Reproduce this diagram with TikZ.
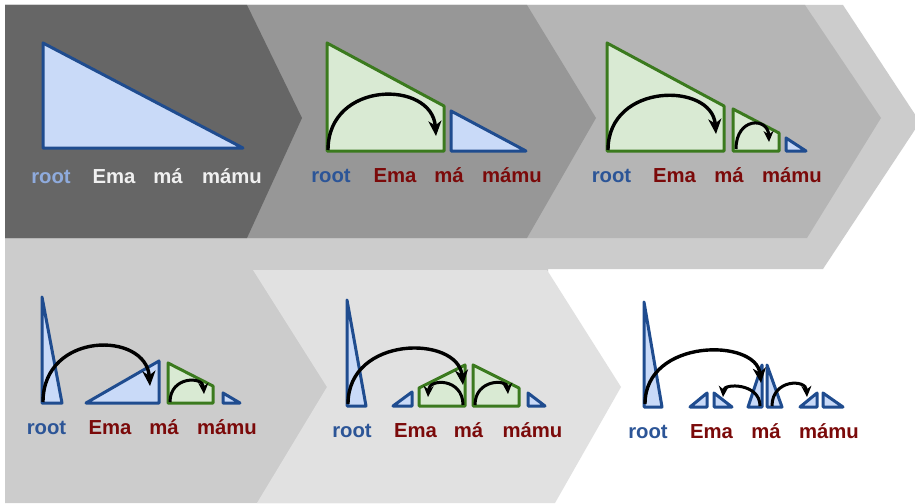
\documentclass[tikz,border=0pt]{standalone}
\usepackage{fontspec}
\setmainfont{Liberation Sans}
\usetikzlibrary{arrows.meta}

\definecolor{panelA}{HTML}{666666}
\definecolor{panelB}{HTML}{979797}
\definecolor{panelC}{HTML}{B5B5B5}
\definecolor{panelD}{HTML}{CCCCCC}
\definecolor{panelE}{HTML}{E1E1E1}
\definecolor{treeblue}{HTML}{1F4C8F}
\definecolor{treebluefill}{HTML}{C9DAF8}
\definecolor{treegreen}{HTML}{3B7A1E}
\definecolor{treegreenfill}{HTML}{D9EAD3}
\definecolor{rootblue}{HTML}{2C5597}
\definecolor{wordred}{HTML}{7B0A0A}
\definecolor{rootpale}{HTML}{8FABDD}
\definecolor{wordpale}{HTML}{F0F0F0}

\tikzset{
  word/.style={font=\fontsize{20.3}{21}\selectfont\bfseries, anchor=base, inner sep=0pt},
  rootword/.style={word, text=rootblue},
  tokword/.style={word, text=wordred},
  bluetri/.style={draw=treeblue, fill=treebluefill, line width=3pt, line join=round},
  greentri/.style={draw=treegreen, fill=treegreenfill, line width=3pt, line join=round},
  bigarc/.style={line width=3.4pt, -{Stealth[length=15pt,width=13pt,inset=4.5pt]}},
  smallarc/.style={line width=3pt, -{Stealth[length=11pt,width=10pt,inset=3.5pt]}},
}

\begin{document}
\begin{tikzpicture}[x=1pt,y=-1pt]
\useasboundingbox (0,0) rectangle (915,503);
\clip (0,0) rectangle (915,503);
\fill[white] (0,0) rectangle (915,503);

% chevron backgrounds
\fill[panelD] (5,5) -- (843,5) -- (920,122) -- (823,269) -- (548,269) -- (548,272)
  -- (400,272) -- (400,503) -- (5,503) -- cycle;
\fill[panelC] (5,5) -- (805,5) -- (881,118) -- (807,238) -- (5,238) -- cycle;
\fill[panelB] (5,5) -- (527,5) -- (596,118) -- (527,238) -- (5,238) -- cycle;
\fill[panelA] (5,5) -- (247,5) -- (302,118) -- (247,238) -- (5,238) -- cycle;
\fill[panelE] (253,270) -- (547,270) -- (621,387) -- (555,503) -- (257,503) -- (327,387) -- cycle;

% step 1
\draw[bluetri] (43,43) -- (43,148) -- (243,148) -- cycle;
\node[word,text=rootpale] (r1) at (51,183) {root};
\node[word,text=wordpale] (e1) at (114,183) {Ema};
\node[word,text=wordpale] (m1) at (168,183) {má};
\node[word,text=wordpale] (u1) at (232,183) {mámu};

% step 2
\draw[greentri] (327,43) -- (327,151) -- (444,151) -- (444,106) -- cycle;
\draw[bluetri] (451,111) -- (451,151) -- (526,151) -- cycle;
\coordinate (a2s) at (328,150);
\coordinate (a2e) at (436,136);
\draw[bigarc] (a2s) .. controls (328,80) and (432,80) .. (a2e);
\node[rootword] (r2) at (331,182) {root};
\node[tokword] (e2) at (395,182) {Ema};
\node[tokword] (m2) at (449,182) {má};
\node[tokword] (u2) at (512,182) {mámu};

% step 3
\draw[greentri] (607,43) -- (607,151) -- (724,151) -- (724,106) -- cycle;
\draw[greentri] (733,109) -- (733,151) -- (779,151) -- (779,133) -- cycle;
\draw[bluetri] (786,138) -- (786,151) -- (806,151) -- cycle;
\coordinate (a3s) at (608,150);
\coordinate (a3e) at (716,134);
\coordinate (b3s) at (736,149);
\coordinate (b3e) at (769,142);
\draw[bigarc] (a3s) .. controls (608,82) and (712,82) .. (a3e);
\draw[smallarc] (b3s) .. controls (736,117) and (768,117) .. (b3e);
\node[rootword] (r3) at (611.5,182) {root};
\node[tokword] (e3) at (674.5,182) {Ema};
\node[tokword] (m3) at (729,182) {má};
\node[tokword] (u3) at (792,182) {mámu};

% step 4
\draw[bluetri] (42,297) -- (42,403) -- (62,403) -- cycle;
\draw[bluetri] (86,403) -- (159,403) -- (159,361) -- cycle;
\draw[greentri] (168,363) -- (168,403) -- (213,403) -- (213,386) -- cycle;
\draw[bluetri] (223,393) -- (223,403) -- (240,403) -- cycle;
\coordinate (a4s) at (43,402);
\coordinate (a4e) at (150,386);
\coordinate (b4s) at (170,402);
\coordinate (b4e) at (204,394);
\draw[bigarc] (a4s) .. controls (43,331) and (146,331) .. (a4e);
\draw[smallarc] (b4s) .. controls (170,376) and (203,376) .. (b4e);
\node[rootword] (r4) at (46.5,434) {root};
\node[tokword] (e4) at (110,434) {Ema};
\node[tokword] (m4) at (164,434) {má};
\node[tokword] (u4) at (227,434) {mámu};

% step 5
\draw[bluetri] (347,300) -- (347,406) -- (366,406) -- cycle;
\draw[bluetri] (393,406) -- (412,406) -- (412,392) -- cycle;
\draw[greentri] (419,406) -- (419,388) -- (465,365) -- (465,406) -- cycle;
\draw[greentri] (473,365) -- (473,406) -- (519,406) -- (519,388) -- cycle;
\draw[bluetri] (528,393) -- (528,406) -- (545,406) -- cycle;
\coordinate (a5s) at (348,404);
\coordinate (a5e) at (463,385);
\coordinate (b5s) at (463,405);
\coordinate (b5e) at (428,397);
\coordinate (c5s) at (475,405);
\coordinate (c5e) at (508,394);
\draw[bigarc] (a5s) .. controls (348,335) and (458,335) .. (a5e);
\draw[smallarc] (b5s) .. controls (463,378) and (429,378) .. (b5e);
\draw[smallarc] (c5s) .. controls (475,379) and (507,379) .. (c5e);
\node[rootword] (r5) at (352,437) {root};
\node[tokword] (e5) at (415.5,437) {Ema};
\node[tokword] (m5) at (468.5,437) {má};
\node[tokword] (u5) at (532.5,437) {mámu};

% step 6
\draw[bluetri] (644,302) -- (644,407) -- (662,407) -- cycle;
\draw[bluetri] (690,407) -- (707,407) -- (707,393) -- cycle;
\draw[bluetri] (714,393) -- (714,407) -- (732,407) -- cycle;
\draw[bluetri] (748,407) -- (762,407) -- (762,365) -- cycle;
\draw[bluetri] (767,365) -- (767,407) -- (782,407) -- cycle;
\draw[bluetri] (800,407) -- (817,407) -- (817,393) -- cycle;
\draw[bluetri] (823,393) -- (823,407) -- (843,407) -- cycle;
\coordinate (a6s) at (645,404);
\coordinate (a6e) at (761,383);
\coordinate (b6s) at (760,406);
\coordinate (b6e) at (723,397);
\coordinate (c6s) at (772,406);
\coordinate (c6e) at (807,397);
\draw[bigarc] (a6s) .. controls (645,338) and (756,338) .. (a6e);
\draw[smallarc] (b6s) .. controls (760,383) and (724,383) .. (b6e);
\draw[smallarc] (c6s) .. controls (772,379) and (806,379) .. (c6e);
\node[rootword] (r6) at (648,438) {root};
\node[tokword] (e6) at (711.5,438) {Ema};
\node[tokword] (m6) at (766,438) {má};
\node[tokword] (u6) at (829,438) {mámu};
\end{tikzpicture}
\end{document}
